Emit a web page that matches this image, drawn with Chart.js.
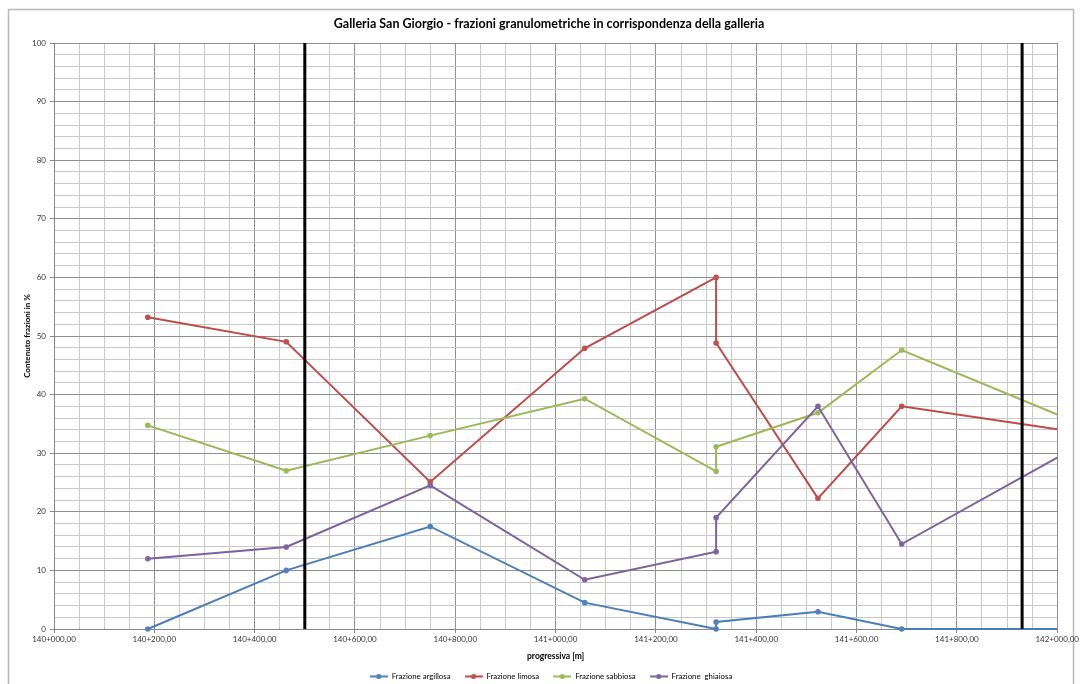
<!DOCTYPE html>
<html>
<head>
<meta charset="utf-8">
<script src="https://cdn.jsdelivr.net/npm/chart.js@4.4.0/dist/chart.umd.min.js"></script>
<style>
  html, body { margin: 0; padding: 0; background: #ffffff; }
  canvas { display: block; }
</style>
</head>
<body>
<canvas id="grafico" width="1081" height="684"></canvas>
<script>
// Chainage in metres measured from 140+000
const progressiva = [187, 463, 750, 1058, 1320, 1320, 1523, 1690, 2000];

// Grain-size fractions (%) at each chainage
const argillosa = [0, 10, 17.5, 4.5, 0, 1.2, 2.95, 0, 0];
const limosa    = [53.2, 49.0, 25.1, 47.9, 60.0, 48.8, 22.3, 38.0, 34.1];
const sabbiosa  = [34.75, 27.0, 33.0, 39.3, 26.9, 31.1, 36.9, 47.6, 36.6];
const ghiaiosa  = [12.0, 14.0, 24.5, 8.4, 13.2, 19.0, 38.0, 14.5, 29.25];

// Tunnel portals (m from 140+000)
const portali = [500, 1930];

const nomiSerie = ['Frazione argillosa', 'Frazione limosa', 'Frazione sabbiosa', 'Frazione  ghiaiosa'];
const coloriLinea = ['#4a7ebb', '#be4b48', '#98b954', '#7d60a0'];
const coloriMarker = ['#4f81bd', '#c0504d', '#9bbb59', '#8064a2'];

const FONT = 'Lato, "Open Sans", sans-serif';

function formatProgressiva(m) {
  const km = 140 + Math.floor(m / 1000);
  const resto = String(Math.round(m % 1000)).padStart(3, '0');
  return km + '+' + resto + ',00';
}

function punti(valori) {
  return progressiva.map((x, i) => ({ x: x, y: valori[i] }));
}

// The last sample sits on the right edge of the axis: no marker there
const raggi = progressiva.map((x) => (x >= 2000 ? 0 : 2.8));

function iconaLegenda(linea, marker) {
  const c = document.createElement('canvas');
  c.width = 18; c.height = 7;
  const g = c.getContext('2d');
  g.strokeStyle = linea; g.lineWidth = 2;
  g.beginPath(); g.moveTo(0, 3.5); g.lineTo(18, 3.5); g.stroke();
  g.fillStyle = marker;
  g.beginPath(); g.arc(9, 3.5, 2.6, 0, Math.PI * 2); g.fill();
  return c;
}

const serie = [argillosa, limosa, sabbiosa, ghiaiosa].map((valori, i) => ({
  label: nomiSerie[i],
  data: punti(valori),
  showLine: true,
  borderColor: coloriLinea[i],
  backgroundColor: coloriMarker[i],
  pointBorderColor: coloriMarker[i],
  pointBackgroundColor: coloriMarker[i],
  borderWidth: 2,
  pointRadius: raggi,
  pointBorderWidth: 0,
  tension: 0,
  clip: false,
  order: 4 - i
}));

const lineePortali = portali.map((x) => ({
  label: 'portale',
  data: [{ x: x, y: 0 }, { x: x, y: 100 }],
  showLine: true,
  borderColor: '#000000',
  borderWidth: 3,
  pointRadius: 0,
  order: 0
}));

const MAGGIORE = '#8f8f8f';
const MINORE = '#c8c8c8';

// Frame around the whole chart
const cornice = {
  id: 'cornice',
  beforeDraw(chart) {
    const ctx = chart.ctx;
    ctx.save();
    ctx.strokeStyle = '#b8b8b8';
    ctx.lineWidth = 1.5;
    ctx.strokeRect(8.5, 9.5, 1065, 676);
    ctx.restore();
  }
};

// Title and legend placement
const posizioneBlocchi = {
  id: 'posizioneBlocchi',
  afterLayout(chart) {
    const t = chart.titleBlock;
    if (t) { t.left += 19; t.right += 19; }
    const l = chart.legend;
    if (l) {
      l.left += 21; l.right += 21;
      l.top = 658.5; l.bottom = 684;
    }
  }
};

new Chart(document.getElementById('grafico'), {
  type: 'scatter',
  data: { datasets: serie.concat(lineePortali) },
  plugins: [cornice, posizioneBlocchi],
  options: {
    responsive: false,
    devicePixelRatio: 1,
    animation: false,
    layout: { padding: { left: 0, right: 21, top: 0, bottom: 0 } },
    plugins: {
      tooltip: { enabled: false },
      title: {
        display: true,
        text: 'Galleria San Giorgio - frazioni granulometriche in corrispondenza della galleria',
        color: '#000000',
        font: { family: FONT, size: 12.5, weight: 'bold' },
        padding: { top: 16.5, bottom: 11.5 }
      },
      legend: {
        position: 'bottom',
        maxHeight: 12,
        labels: {
          usePointStyle: true,
          pointStyleWidth: 18,
          padding: 14,
          color: '#000000',
          font: { family: FONT, size: 7.8 },
          filter: (item) => item.datasetIndex < 4,
          sort: (a, b) => a.datasetIndex - b.datasetIndex,
          generateLabels(chart) {
            const base = Chart.defaults.plugins.legend.labels.generateLabels(chart);
            return base.map((it) => {
              if (it.datasetIndex < 4) {
                it.pointStyle = iconaLegenda(coloriLinea[it.datasetIndex], coloriMarker[it.datasetIndex]);
              }
              return it;
            });
          }
        }
      }
    },
    scales: {
      x: {
        type: 'linear',
        min: 0,
        max: 2000,
        afterFit(s) { s.height = 43; },
        ticks: {
          stepSize: 50,
          autoSkip: false,
          maxRotation: 0,
          padding: 2,
          color: '#333333',
          font: { family: FONT, size: 8 },
          callback: (v) => (v % 200 === 0 ? formatProgressiva(v) : '')
        },
        grid: {
          color: (c) => (c.tick && c.tick.value % 200 === 0 ? MAGGIORE : MINORE),
          tickColor: (c) => (c.tick && c.tick.value % 200 === 0 ? '#868686' : 'rgba(0,0,0,0)'),
          tickLength: 4,
          lineWidth: 1
        },
        border: { color: '#868686', width: 1 },
        title: {
          display: true,
          text: 'progressiva [m]',
          color: '#000000',
          font: { family: FONT, size: 8.5, weight: 'bold' },
          padding: { top: 0, bottom: 11 }
        }
      },
      y: {
        type: 'linear',
        min: 0,
        max: 100,
        afterFit(s) { s.width = 54; },
        ticks: {
          stepSize: 2,
          autoSkip: false,
          padding: 4,
          color: '#333333',
          font: { family: FONT, size: 8 },
          callback: (v) => (v % 10 === 0 ? v : '')
        },
        grid: {
          color: (c) => (c.tick && c.tick.value % 10 === 0 ? MAGGIORE : MINORE),
          tickColor: (c) => (c.tick && c.tick.value % 10 === 0 ? '#868686' : 'rgba(0,0,0,0)'),
          tickLength: 4,
          lineWidth: 1
        },
        border: { color: '#868686', width: 1 },
        title: {
          display: true,
          text: 'Contenuto frazioni in %',
          color: '#000000',
          font: { family: FONT, size: 8, weight: 'bold' },
          padding: { top: 22.2, bottom: 0 }
        }
      }
    }
  }
});
</script>
</body>
</html>
